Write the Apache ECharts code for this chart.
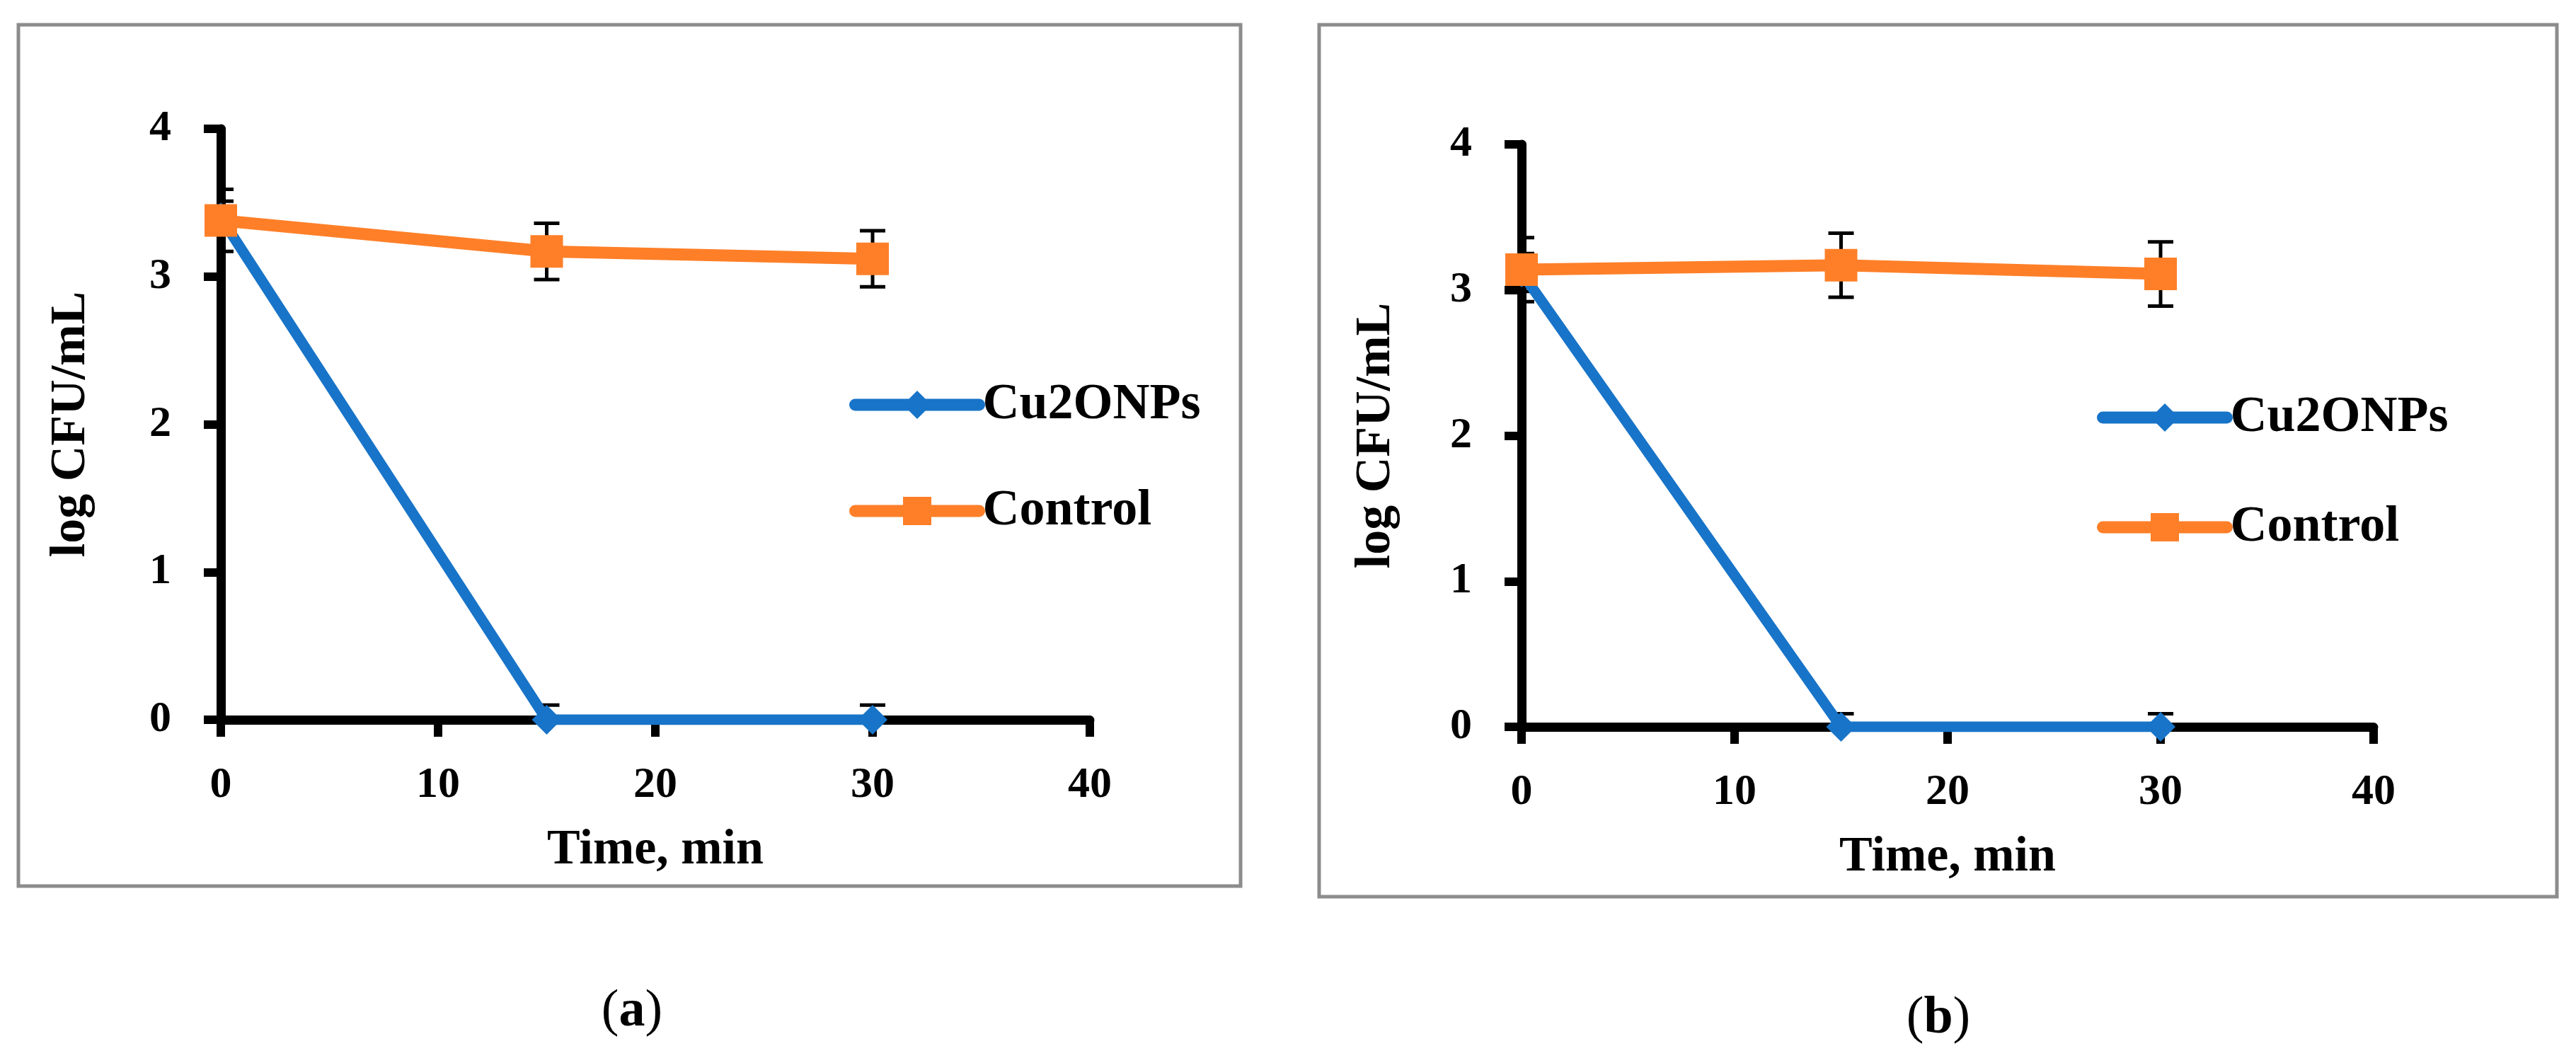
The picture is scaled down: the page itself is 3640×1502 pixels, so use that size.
<!DOCTYPE html>
<html>

<head>
    <title>log CFU/mL vs time</title>
    <meta charset="utf-8">
    <script src="https://cdn.jsdelivr.net/npm/echarts@6.0.0/dist/echarts.min.js"></script>
    <style>
        html, body { margin: 0; padding: 0; background: #fff; }
    </style>
</head>

<body>
    <div id="main" style="width: 3640px;height:1502px;"></div>

    <script type="text/javascript">
        // sampling times (min)
        var times = [0, 15, 30];

        // panel (a)
        var cuA = [3.40, 0, 0];
        var cuAErr = [0.11, 0.1, 0.1];
        var ctrlA = [3.38, 3.17, 3.12];
        var ctrlAErr = [0.21, 0.19, 0.19];

        // panel (b)
        var cuB = [3.12, 0, 0];
        var cuBErr = [0.13, 0.09, 0.09];
        var ctrlB = [3.14, 3.17, 3.11];
        var ctrlBErr = [0.22, 0.22, 0.22];

        var seriesNames = ['Cu2ONPs', 'Control'];
        var panelLabels = ['a', 'b'];

        var BLUE = '#1874C8';
        var ORANGE = '#FE7F28';
        var FONT = 'Liberation Serif';

        var myChart = echarts.init(document.getElementById('main'));

        function pairs(ys, errs) {
            return times.map(function (t, i) { return [t, ys[i], errs[i]]; });
        }

        // vertical error bar with caps, placed through the axis scales
        function renderErr(params, api) {
            var x = api.value(0), y = api.value(1), e = api.value(2);
            var top = api.coord([x, y + e]);
            var bot = api.coord([x, y - e]);
            var half = 18;
            var st = { stroke: '#000', lineWidth: 5 };
            return {
                type: 'group',
                children: [
                    { type: 'line', shape: { x1: top[0], y1: top[1], x2: bot[0], y2: bot[1] }, style: st },
                    { type: 'line', shape: { x1: top[0] - half, y1: top[1], x2: top[0] + half, y2: top[1] }, style: st },
                    { type: 'line', shape: { x1: bot[0] - half, y1: bot[1], x2: bot[0] + half, y2: bot[1] }, style: st }
                ]
            };
        }

        function xAxisFor(idx, gap) {
            return {
                type: 'value', gridIndex: idx, min: 0, max: 40, interval: 10,
                name: 'Time, min', nameLocation: 'middle', nameGap: gap,
                nameTextStyle: { fontFamily: FONT, fontWeight: 'bold', fontSize: 70, color: '#000' },
                axisLine: { show: true, onZero: false, lineStyle: { color: '#000', width: 13 } },
                axisTick: { show: true, length: 24, lineStyle: { color: '#000', width: 12 } },
                axisLabel: { fontFamily: FONT, fontWeight: 'bold', fontSize: 62, color: '#000', margin: 62 },
                splitLine: { show: false }
            };
        }

        function yAxisFor(idx, gap) {
            return {
                type: 'value', gridIndex: idx, min: 0, max: 4, interval: 1,
                name: 'log CFU/mL', nameLocation: 'middle', nameGap: gap,
                nameTextStyle: { fontFamily: FONT, fontWeight: 'bold', fontSize: 70, color: '#000' },
                axisLine: { show: true, onZero: false, lineStyle: { color: '#000', width: 13 } },
                axisTick: { show: true, length: 24, lineStyle: { color: '#000', width: 12 } },
                axisLabel: { fontFamily: FONT, fontWeight: 'bold', fontSize: 62, color: '#000', margin: 70 },
                splitLine: { show: false }
            };
        }

        function lineSeries(name, idx, ys, color, symbol, size, width) {
            return {
                name: name, type: 'line', xAxisIndex: idx, yAxisIndex: idx,
                data: times.map(function (t, i) { return [t, ys[i]]; }),
                symbol: symbol, symbolSize: size, showAllSymbol: true,
                lineStyle: { color: color, width: width },
                itemStyle: { color: color },
                z: 3, animation: false
            };
        }

        function errSeries(idx, ys, errs) {
            return {
                type: 'custom', xAxisIndex: idx, yAxisIndex: idx,
                data: pairs(ys, errs), renderItem: renderErr, clip: true,
                z: 2, silent: true, animation: false
            };
        }

        function legendFor(left, top, gap) {
            return {
                data: seriesNames, orient: 'vertical', left: left, top: top,
                itemGap: gap, itemWidth: 175, itemHeight: 50, padding: 0,
                selectedMode: false,
                lineStyle: { width: 17, cap: 'round' },
                textStyle: { fontFamily: FONT, fontWeight: 'bold', fontSize: 72, lineHeight: 72, color: '#000' }
            };
        }

        function panelText(cx, cy, letter) {
            return {
                type: 'text', x: cx, y: cy,
                style: {
                    text: '{p|(}{l|' + letter + '}{p|)}',
                    align: 'center', verticalAlign: 'middle',
                    rich: {
                        p: { fontFamily: FONT, fontSize: 74, color: '#000' },
                        l: { fontFamily: FONT, fontSize: 74, fontWeight: 'bold', color: '#000' }
                    }
                }
            };
        }

        var option = {
            backgroundColor: '#fff',
            animation: false,
            grid: [
                { left: 312, top: 182, width: 1228, height: 835 },
                { left: 2150, top: 204, width: 1204, height: 823 }
            ],
            xAxis: [xAxisFor(0, 150), xAxisFor(1, 150)],
            yAxis: [yAxisFor(0, 176), yAxisFor(1, 170)],
            legend: [legendFor(1200, 536, 78), legendFor(2963, 554, 83)],
            series: [
                errSeries(0, cuA, cuAErr),
                errSeries(0, ctrlA, ctrlAErr),
                lineSeries(seriesNames[0], 0, cuA, BLUE, 'diamond', 42, 15),
                lineSeries(seriesNames[1], 0, ctrlA, ORANGE, 'rect', 46, 17),
                errSeries(1, cuB, cuBErr),
                errSeries(1, ctrlB, ctrlBErr),
                lineSeries(seriesNames[0], 1, cuB, BLUE, 'diamond', 42, 15),
                lineSeries(seriesNames[1], 1, ctrlB, ORANGE, 'rect', 46, 17)
            ],
            graphic: [
                { type: 'rect', shape: { x: 26, y: 35, width: 1727, height: 1217 },
                  style: { fill: null, stroke: '#8c8c8c', lineWidth: 5 }, z: -1 },
                { type: 'rect', shape: { x: 1864, y: 35, width: 1749, height: 1232 },
                  style: { fill: null, stroke: '#8c8c8c', lineWidth: 5 }, z: -1 },
                panelText(893, 1430, panelLabels[0]),
                panelText(2739, 1440, panelLabels[1])
            ]
        };

        myChart.setOption(option);
    </script>
</body>

</html>
